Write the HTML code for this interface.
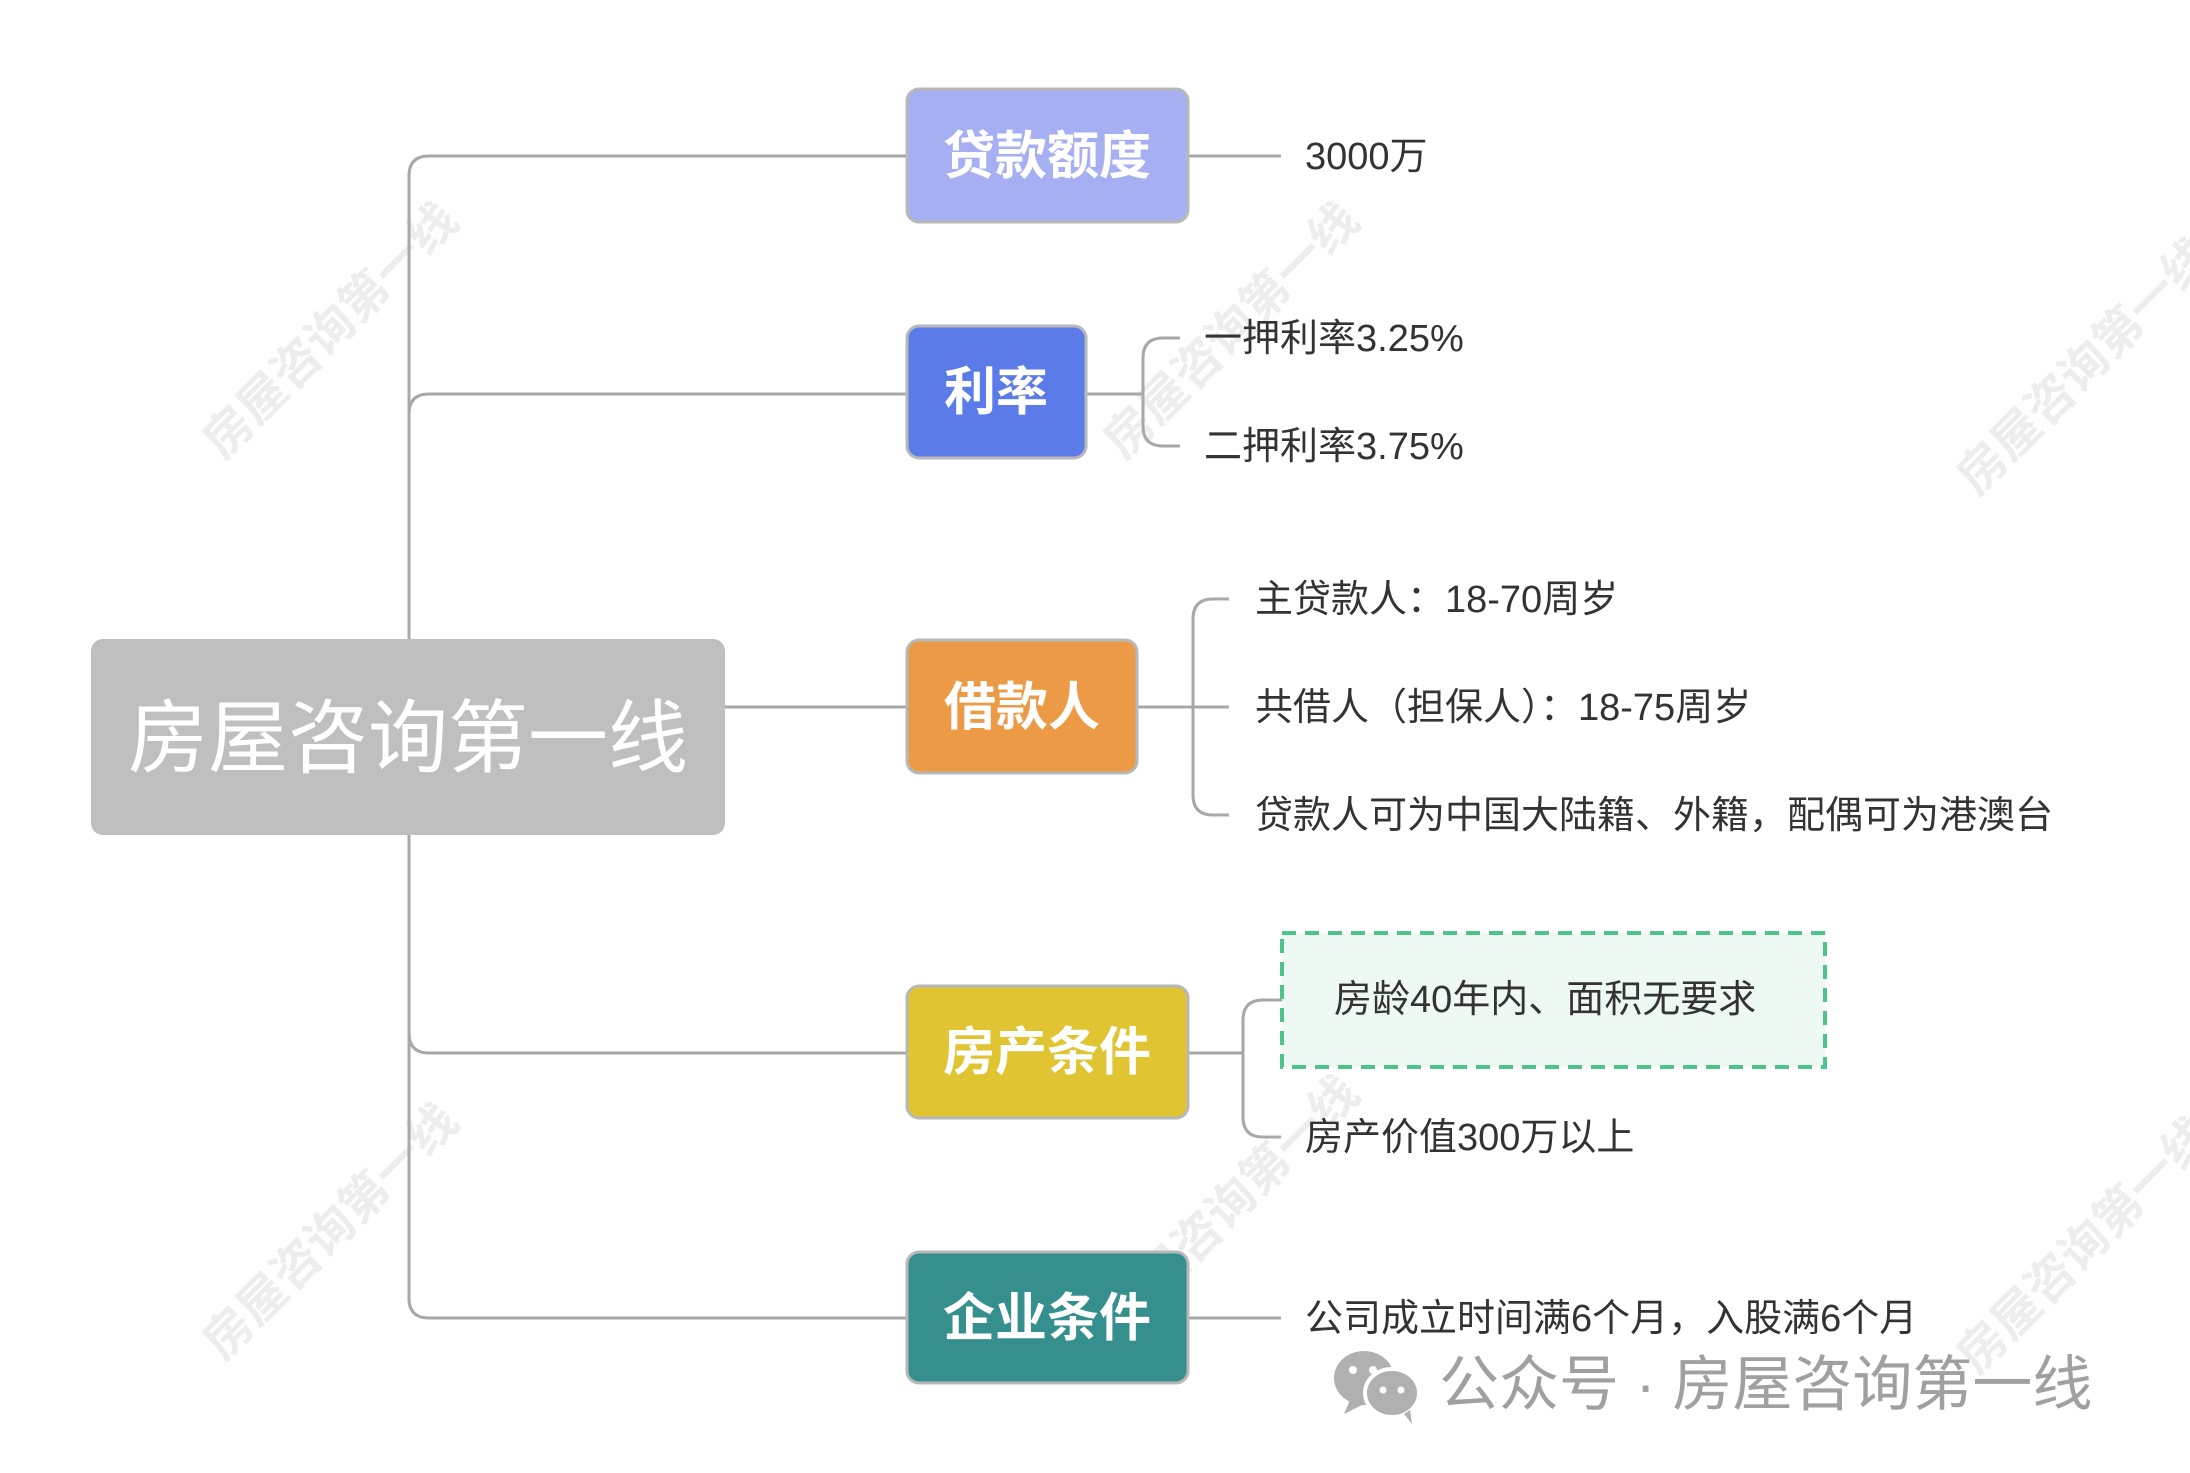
<!DOCTYPE html>
<html><head><meta charset="utf-8"><style>
html,body{margin:0;padding:0;background:#fff;}
svg{display:block;}
text{font-family:"Liberation Sans","Noto Sans CJK SC",sans-serif;}
</style></head><body>
<svg width="2190" height="1473" viewBox="0 0 2190 1473" xmlns="http://www.w3.org/2000/svg">
<g fill="#000" fill-opacity="0.07" font-size="48" font-weight="bold">
<text x="342" y="342" text-anchor="middle" transform="rotate(-45 342 342)">房屋咨询第一线</text>
<text x="1243" y="342" text-anchor="middle" transform="rotate(-45 1243 342)">房屋咨询第一线</text>
<text x="2096" y="378" text-anchor="middle" transform="rotate(-45 2096 378)">房屋咨询第一线</text>
<text x="342" y="1243" text-anchor="middle" transform="rotate(-45 342 1243)">房屋咨询第一线</text>
<text x="1243" y="1215" text-anchor="middle" transform="rotate(-45 1243 1215)">房屋咨询第一线</text>
<text x="2096" y="1257" text-anchor="middle" transform="rotate(-45 2096 1257)">房屋咨询第一线</text>
</g>
<g fill="none" stroke="#a8a8a8" stroke-width="3">
<path d="M409 639 V176 Q409 156 429 156 H907"/>
<path d="M409 639 V414 Q409 394 429 394 H907"/>
<path d="M409 835 V1033 Q409 1053 429 1053 H907"/>
<path d="M409 835 V1298 Q409 1318 429 1318 H907"/>
<path d="M725 707 H907"/>
<path d="M1188 156 H1281"/>
<path d="M1086 394 H1143"/>
<path d="M1163 338 Q1143 338 1143 358 V426 Q1143 446 1163 446 H1180"/>
<path d="M1163 338 H1180"/>
<path d="M1137 707 H1229"/>
<path d="M1213 599 Q1193 599 1193 619 V795 Q1193 815 1213 815 H1229"/>
<path d="M1213 599 H1229"/>
<path d="M1188 1053 H1243"/>
<path d="M1263 1000 Q1243 1000 1243 1020 V1117 Q1243 1137 1263 1137 H1281"/>
<path d="M1263 1000 H1309"/>
<path d="M1188 1318 H1281"/>
</g>
<rect x="91" y="639" width="634" height="196" rx="12" fill="#bfbfbf"/>
<text x="408" y="766" text-anchor="middle" font-size="80" fill="#fff">房屋咨询第一线</text>
<g stroke="#b8b8b8" stroke-width="3">
<rect x="907" y="89" width="281" height="133" rx="12" fill="#a5aff2"/>
<rect x="907" y="326" width="179" height="132" rx="12" fill="#5b7be9"/>
<rect x="907" y="640" width="230" height="133" rx="12" fill="#ed9a46"/>
<rect x="907" y="986" width="281" height="132" rx="12" fill="#e0c431"/>
<rect x="907" y="1252" width="281" height="131" rx="12" fill="#358f8c"/>
</g>
<g fill="#fff" font-size="52" font-weight="bold" text-anchor="middle">
<text x="1047" y="174">贷款额度</text>
<text x="996" y="410">利率</text>
<text x="1022" y="725">借款人</text>
<text x="1047" y="1070">房产条件</text>
<text x="1047" y="1336">企业条件</text>
</g>
<rect x="1282" y="933" width="543" height="134" fill="#edf9f2" stroke="#4fc48a" stroke-width="4" stroke-dasharray="14 9"/>
<g fill="#333" font-size="38">
<text x="1305" y="169">3000万</text>
<text x="1204" y="351">一押利率3.25%</text>
<text x="1204" y="459">二押利率3.75%</text>
<text x="1255" y="612">主贷款人：18-70周岁</text>
<text x="1255" y="720">共借人（担保人）：18-75周岁</text>
<text x="1255" y="828">贷款人可为中国大陆籍、外籍，配偶可为港澳台</text>
<text x="1334" y="1012">房龄40年内、面积无要求</text>
<text x="1305" y="1150">房产价值300万以上</text>
<text x="1305" y="1331">公司成立时间满6个月，入股满6个月</text>
</g>
<g fill="#b0b0b0">
<ellipse cx="1364" cy="1378" rx="30" ry="27"/>
<path d="M1350 1400 l-6 14 l18 -9 z"/>
<ellipse cx="1392" cy="1393" rx="27" ry="24" stroke="#fff" stroke-width="4"/>
<path d="M1404 1414 l8 10 l-2 -14 z"/>
</g>
<g fill="#fff"><circle cx="1353" cy="1370" r="4"/><circle cx="1373" cy="1370" r="4"/><circle cx="1383" cy="1390" r="3.5"/><circle cx="1401" cy="1390" r="3.5"/></g>
<text x="1439" y="1405" font-size="60" fill="#a0a0a0">公众号 · 房屋咨询第一线</text>
</svg>
</body></html>
